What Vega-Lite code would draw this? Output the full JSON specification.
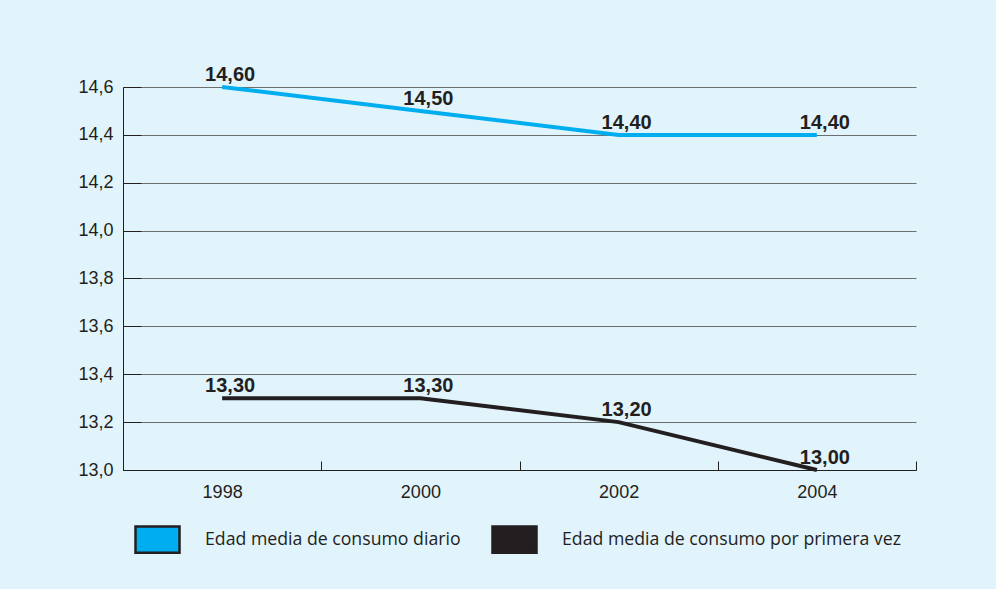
{
  "$schema": "https://vega.github.io/schema/vega-lite/v6.json",
  "width": 793,
  "height": 383,
  "autosize": "none",
  "padding": {"left": 123, "top": 87, "right": 80, "bottom": 119},
  "background": "#e1f3fb",
  "data": {
    "values": [
      {"year": "1998", "serie": "Edad media de consumo diario", "edad": 14.6},
      {"year": "2000", "serie": "Edad media de consumo diario", "edad": 14.5},
      {"year": "2002", "serie": "Edad media de consumo diario", "edad": 14.4},
      {"year": "2004", "serie": "Edad media de consumo diario", "edad": 14.4},
      {"year": "1998", "serie": "Edad media de consumo por primera vez", "edad": 13.3},
      {"year": "2000", "serie": "Edad media de consumo por primera vez", "edad": 13.3},
      {"year": "2002", "serie": "Edad media de consumo por primera vez", "edad": 13.2},
      {"year": "2004", "serie": "Edad media de consumo por primera vez", "edad": 13.0}
    ]
  },
  "encoding": {
    "x": {
      "field": "year",
      "type": "nominal",
      "bandPosition": 0.5,
      "scale": {"type": "band", "paddingInner": 0, "paddingOuter": 0},
      "axis": {
        "title": null,
        "labelAngle": 0,
        "tickBand": "extent",
        "tickSize": -9,
        "tickColor": "#231f20",
        "domainColor": "#231f20",
        "labelPadding": 22,
        "grid": false
      }
    },
    "y": {
      "field": "edad",
      "type": "quantitative",
      "scale": {"domain": [13.0, 14.6], "zero": false, "nice": false},
      "axis": {
        "title": null,
        "values": [13.0, 13.2, 13.4, 13.6, 13.8, 14.0, 14.2, 14.4, 14.6],
        "format": ".1f",
        "grid": true,
        "gridColor": "#6d6e70",
        "gridWidth": 1,
        "tickSize": -18,
        "tickColor": "#231f20",
        "domainColor": "#231f20",
        "labelPadding": 28
      }
    }
  },
  "layer": [
    {
      "mark": {"type": "line", "strokeWidth": 4, "strokeCap": "butt"},
      "encoding": {
        "stroke": {
          "field": "serie",
          "type": "nominal",
          "scale": {"range": ["#00aeef", "#231f20"]},
          "legend": null
        }
      }
    },
    {
      "mark": {
        "type": "point",
        "filled": true,
        "size": 0,
        "stroke": "#231f20",
        "strokeWidth": 0
      },
      "encoding": {
        "color": {
          "field": "serie",
          "type": "nominal",
          "scale": {
            "domain": ["Edad media de consumo diario", "Edad media de consumo por primera vez"],
            "range": ["#00aeef", "#231f20"]
          },
          "legend": {
            "title": null,
            "orient": "none",
            "legendX": 11,
            "legendY": 429,
            "direction": "horizontal",
            "padding": 0,
            "symbolType": "M-1,-0.6H1V0.6H-1Z",
            "symbolSize": 1936,
            "symbolOpacity": 1,
            "symbolStrokeColor": "#231f20",
            "symbolStrokeWidth": 2.5,
            "labelOffset": 24,
            "columnPadding": 26,
            "labelFont": "Open Sans",
            "labelFontSize": 17.7,
            "labelColor": "#231f20",
            "labelLimit": 400,
            "encode": {
              "symbols": {
                "update": {
                  "size": {"value": 1936},
                  "stroke": {"value": "#231f20"},
                  "strokeWidth": {"value": 2.5}
                }
              }
            }
          }
        }
      }
    },
    {
      "mark": {
        "type": "text",
        "fontWeight": "bold",
        "fontSize": 20,
        "font": "Liberation Sans",
        "color": "#231f20",
        "dx": 8,
        "dy": -6,
        "baseline": "alphabetic"
      },
      "encoding": {
        "text": {"field": "edad", "type": "quantitative", "format": ".2f"}
      }
    }
  ],
  "config": {
    "locale": {
      "number": {"decimal": ",", "thousands": ".", "grouping": [3], "currency": ["", " €"]}
    },
    "view": {"stroke": null},
    "axis": {
      "labelFont": "Liberation Sans",
      "labelFontSize": 18,
      "labelColor": "#231f20",
      "domainWidth": 1,
      "tickWidth": 1
    }
  }
}
